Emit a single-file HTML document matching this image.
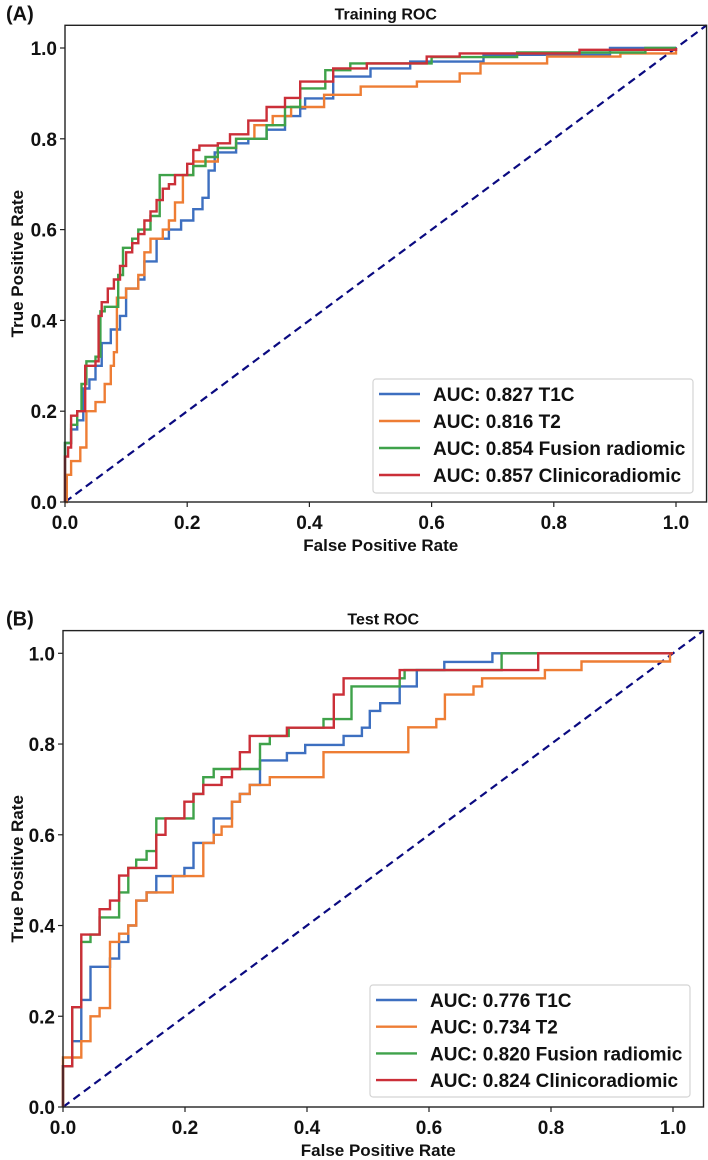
<!DOCTYPE html>
<html><head><meta charset="utf-8">
<style>
html,body{margin:0;padding:0;background:#fff;}
svg{display:block;font-family:"Liberation Sans",Arial,sans-serif;}
text{font-weight:bold;fill:#111;}
</style></head>
<body>
<svg id="fig" width="708" height="1160" viewBox="0 0 708 1160" xmlns="http://www.w3.org/2000/svg"></svg>
<script>
const ticks = [0, 0.2, 0.4, 0.6, 0.8, 1.0];
const tickLabels = ["0.0", "0.2", "0.4", "0.6", "0.8", "1.0"];
const seriesNames = ["T1C", "T2", "Fusion radiomic", "Clinicoradiomic"];
const trainAUC = ["0.827", "0.816", "0.854", "0.857"];
const testAUC = ["0.776", "0.734", "0.820", "0.824"];

const trainT1C = [[0,0],[0,0.13],[0.01,0.16],[0.02,0.18],[0.03,0.25],[0.04,0.27],[0.05,0.3],[0.06,0.35],[0.075,0.38],[0.09,0.41],[0.1,0.47],[0.12,0.49],[0.13,0.53],[0.15,0.58],[0.17,0.6],[0.19,0.62],[0.21,0.645],[0.225,0.67],[0.235,0.73],[0.245,0.77],[0.28,0.79],[0.3,0.80],[0.33,0.82],[0.36,0.85],[0.385,0.867],[0.393,0.889],[0.439,0.937],[0.5,0.955],[0.565,0.97],[0.685,0.985],[0.892,1],[1,1]];
const trainT2 = [[0,0],[0.003,0.06],[0.01,0.09],[0.025,0.12],[0.035,0.2],[0.05,0.22],[0.065,0.26],[0.075,0.3],[0.08,0.33],[0.085,0.45],[0.1,0.47],[0.12,0.5],[0.13,0.55],[0.14,0.58],[0.16,0.6],[0.17,0.62],[0.18,0.66],[0.193,0.72],[0.21,0.75],[0.25,0.78],[0.28,0.8],[0.31,0.83],[0.34,0.85],[0.37,0.87],[0.424,0.897],[0.484,0.915],[0.576,0.926],[0.646,0.944],[0.68,0.966],[0.789,0.981],[0.909,0.988],[1,1]];
const trainFusion = [[0,0],[0,0.13],[0.01,0.17],[0.02,0.2],[0.027,0.26],[0.035,0.31],[0.05,0.32],[0.058,0.42],[0.065,0.43],[0.087,0.5],[0.095,0.56],[0.11,0.58],[0.12,0.6],[0.14,0.63],[0.155,0.72],[0.19,0.72],[0.21,0.74],[0.23,0.76],[0.25,0.78],[0.28,0.80],[0.33,0.83],[0.36,0.87],[0.385,0.911],[0.426,0.951],[0.467,0.966],[0.6,0.98],[0.74,0.99],[0.95,1],[1,1]];
const trainClinico = [[0,0],[0,0.1],[0.005,0.12],[0.01,0.19],[0.02,0.2],[0.033,0.30],[0.05,0.31],[0.055,0.41],[0.06,0.44],[0.07,0.47],[0.08,0.49],[0.09,0.52],[0.1,0.55],[0.11,0.57],[0.12,0.59],[0.13,0.62],[0.14,0.64],[0.15,0.665],[0.16,0.69],[0.17,0.70],[0.18,0.72],[0.2,0.745],[0.21,0.775],[0.22,0.785],[0.25,0.79],[0.27,0.81],[0.3,0.84],[0.33,0.87],[0.36,0.89],[0.385,0.926],[0.439,0.955],[0.494,0.966],[0.592,0.981],[0.646,0.988],[0.842,0.996],[1,1]];

const testT1C = [[0,0],[0,0.09],[0.015,0.145],[0.03,0.236],[0.045,0.309],[0.077,0.327],[0.092,0.364],[0.107,0.4],[0.12,0.455],[0.137,0.473],[0.153,0.509],[0.199,0.527],[0.214,0.582],[0.23,0.582],[0.247,0.636],[0.277,0.673],[0.29,0.69],[0.306,0.71],[0.323,0.764],[0.367,0.78],[0.397,0.798],[0.46,0.818],[0.49,0.836],[0.503,0.873],[0.52,0.89],[0.552,0.927],[0.58,0.963],[0.625,0.981],[0.704,1],[1,1]];
const testT2 = [[0,0],[0,0.109],[0.03,0.145],[0.045,0.2],[0.06,0.218],[0.077,0.364],[0.092,0.382],[0.107,0.4],[0.12,0.455],[0.137,0.473],[0.168,0.473],[0.18,0.509],[0.23,0.582],[0.247,0.6],[0.26,0.618],[0.277,0.673],[0.29,0.69],[0.306,0.71],[0.339,0.727],[0.427,0.782],[0.566,0.837],[0.612,0.855],[0.626,0.909],[0.673,0.927],[0.687,0.945],[0.79,0.963],[0.85,0.982],[0.995,1],[1,1]];
const testFusion = [[0,0],[0,0.09],[0.015,0.22],[0.03,0.364],[0.045,0.38],[0.06,0.418],[0.092,0.473],[0.107,0.527],[0.12,0.545],[0.137,0.564],[0.153,0.636],[0.214,0.69],[0.23,0.727],[0.247,0.745],[0.323,0.8],[0.339,0.818],[0.37,0.836],[0.427,0.855],[0.473,0.927],[0.552,0.945],[0.56,0.963],[0.719,1],[1,1]];
const testClinico = [[0,0],[0,0.09],[0.015,0.22],[0.03,0.38],[0.06,0.436],[0.077,0.455],[0.092,0.51],[0.107,0.527],[0.153,0.6],[0.168,0.636],[0.199,0.673],[0.214,0.69],[0.23,0.71],[0.26,0.727],[0.277,0.745],[0.29,0.782],[0.306,0.818],[0.367,0.836],[0.444,0.909],[0.46,0.945],[0.552,0.963],[0.779,1],[1,1]];

const colors = ["#3d6fc0", "#ee7d34", "#3fa24a", "#cb2f38"];
const NS = "http://www.w3.org/2000/svg";
const svg = document.getElementById("fig");

function mk(tag, attrs, parent) {
  const e = document.createElementNS(NS, tag);
  for (const k in attrs) e.setAttribute(k, attrs[k]);
  (parent || svg).appendChild(e);
  return e;
}

function panel(cfg) {
  const g = mk("g", {});
  
  
  const sx = v => cfg.x0 + v * cfg.kx;
  const sy = v => cfg.y0 - v * cfg.ky;
  const left = sx(0), right = sx(1.05), top = sy(1.05), bottom = sy(0);

  const diag = mk("line", {x1: sx(0), y1: sy(0), x2: sx(1.05), y2: sy(1.05), stroke: "#0a0a80", "stroke-width": 2.2, "stroke-dasharray": "8,5"}, g);
  
  

  cfg.series.forEach((pts, i) => {
    let d = "M" + sx(pts[0][0]).toFixed(1) + "," + sy(pts[0][1]).toFixed(1);
    for (let j = 1; j < pts.length; j++) {
      d += " H" + sx(pts[j][0]).toFixed(1) + " V" + sy(pts[j][1]).toFixed(1);
    }
    const p = mk("path", {d: d, fill: "none", stroke: colors[i], "stroke-width": 2.4, "stroke-linejoin": "miter"}, g);
    
    
  });

  const frame = mk("rect", {x: left, y: top, width: right - left, height: bottom - top, fill: "none", stroke: "#222", "stroke-width": 1.4}, g);
  
  

  ticks.forEach((t, i) => {
    mk("line", {x1: sx(t), y1: bottom, x2: sx(t), y2: bottom + 5, stroke: "#222", "stroke-width": 1.2}, g);
    const xl = mk("text", {x: sx(t), y: bottom + 27, "text-anchor": "middle", "font-size": 19}, g);
    xl.textContent = tickLabels[i];
    
    
    mk("line", {x1: left - 5, y1: sy(t), x2: left, y2: sy(t), stroke: "#222", "stroke-width": 1.2}, g);
    const yl = mk("text", {x: left - 8, y: sy(t) + 7, "text-anchor": "end", "font-size": 19}, g);
    yl.textContent = tickLabels[i];
    
    
  });

  const xt = mk("text", {x: (left + right) / 2 - 5, y: bottom + 49, "text-anchor": "middle", "font-size": 17}, g);
  xt.textContent = "False Positive Rate";
  
  

  const cy = (top + bottom) / 2;
  const yt = mk("text", {x: 0, y: 0, "text-anchor": "middle", "font-size": 17, transform: "translate(23," + cy + ") rotate(-90)"}, g);
  yt.textContent = "True Positive Rate";
  
  

  const tt = mk("text", {x: (left + right) / 2, y: top - 6, "text-anchor": "middle", "font-size": 16}, g);
  tt.textContent = cfg.title;
  
  

  const pl = mk("text", {x: 6, y: top - 5, "font-size": 20}, g);
  pl.textContent = cfg.label;
  
  

  const lg = mk("g", {}, g);
  
  
  mk("rect", {x: cfg.lx, y: cfg.ly, width: cfg.lw, height: cfg.lh, rx: 3, fill: "#fff", "fill-opacity": 0.85, stroke: "#d4d4d4", "stroke-width": 1.2}, lg);
  cfg.auc.forEach((a, i) => {
    const ry = cfg.ly + 15 + i * cfg.rowH;
    const ent = mk("g", {}, lg);
    
    
    mk("line", {x1: cfg.lx + 6, y1: ry, x2: cfg.lx + 47, y2: ry, stroke: colors[i], "stroke-width": 2.4}, ent);
    const lt = mk("text", {x: cfg.lx + 60, y: ry + 7, "font-size": 19}, ent);
    lt.textContent = "AUC: " + a + " " + seriesNames[i];
  });
}

panel({key: "training", title: "Training ROC", label: "(A)", x0: 65, kx: 611, y0: 502, ky: 454,
  series: [trainT1C, trainT2, trainFusion, trainClinico], auc: trainAUC,
  lx: 373, ly: 379, lw: 320, lh: 114, rowH: 27});
panel({key: "test", title: "Test ROC", label: "(B)", x0: 63, kx: 610, y0: 1107, ky: 453.7,
  series: [testT1C, testT2, testFusion, testClinico], auc: testAUC,
  lx: 370, ly: 985, lw: 320, lh: 112, rowH: 26.7});
</script>
</body></html>
